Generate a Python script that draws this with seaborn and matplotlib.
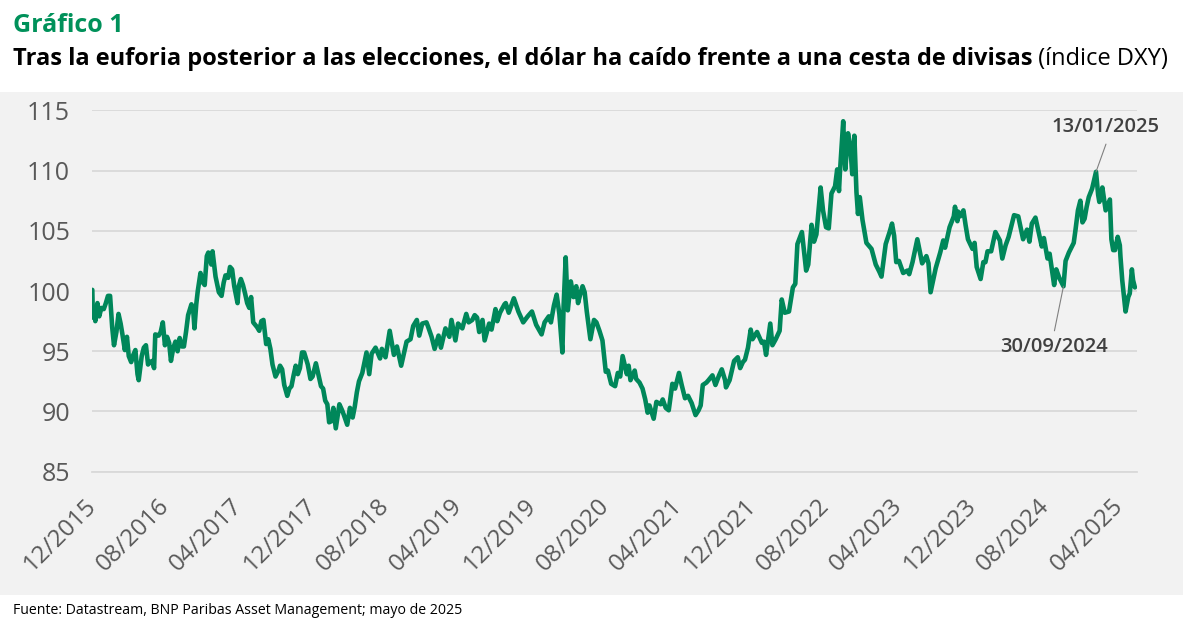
import matplotlib
matplotlib.use("Agg")
import matplotlib.pyplot as plt
from matplotlib.patches import Rectangle
import seaborn as sns
import pandas as pd

# DXY index, values (about weekly / semi-monthly)
dates = [
    "2015-12-01", "2015-12-03", "2015-12-08", "2015-12-11", "2015-12-18", "2015-12-24", "2015-12-31",
    "2016-01-08", "2016-01-15", "2016-01-22", "2016-01-29", "2016-02-05", "2016-02-11", "2016-02-19",
    "2016-02-26", "2016-03-04", "2016-03-10", "2016-03-18", "2016-03-25", "2016-03-31", "2016-04-08",
    "2016-04-15", "2016-04-22", "2016-04-29", "2016-05-03", "2016-05-13", "2016-05-20", "2016-05-27",
    "2016-06-03", "2016-06-10", "2016-06-17", "2016-06-23", "2016-06-27", "2016-07-08", "2016-07-15",
    "2016-07-22", "2016-07-29", "2016-08-05", "2016-08-12", "2016-08-18", "2016-08-26", "2016-09-02",
    "2016-09-09", "2016-09-16", "2016-09-23", "2016-09-30", "2016-10-07", "2016-10-14", "2016-10-25",
    "2016-10-31", "2016-11-04", "2016-11-10", "2016-11-15", "2016-11-24", "2016-12-02", "2016-12-08",
    "2016-12-15", "2016-12-20", "2016-12-30", "2017-01-03", "2017-01-13", "2017-01-24", "2017-02-02",
    "2017-02-09", "2017-02-15", "2017-02-24", "2017-03-02", "2017-03-09", "2017-03-16", "2017-03-27",
    "2017-03-31", "2017-04-07", "2017-04-14", "2017-04-21", "2017-04-28", "2017-05-05", "2017-05-11",
    "2017-05-18", "2017-05-31", "2017-06-07", "2017-06-14", "2017-06-21", "2017-06-30", "2017-07-07",
    "2017-07-14", "2017-07-21", "2017-07-31", "2017-08-10", "2017-08-15", "2017-08-22", "2017-08-29",
    "2017-09-08", "2017-09-15", "2017-09-22", "2017-09-29", "2017-10-06", "2017-10-13", "2017-10-20",
    "2017-10-27", "2017-11-03", "2017-11-15", "2017-11-24", "2017-12-01", "2017-12-12", "2017-12-19",
    "2017-12-29", "2018-01-05", "2018-01-12", "2018-01-19", "2018-01-25", "2018-02-02", "2018-02-08",
    "2018-02-16", "2018-02-28", "2018-03-09", "2018-03-15", "2018-03-26", "2018-04-04", "2018-04-13",
    "2018-04-20", "2018-04-27", "2018-05-04", "2018-05-15", "2018-05-29", "2018-06-07", "2018-06-15",
    "2018-06-28", "2018-07-13", "2018-07-19", "2018-07-31", "2018-08-14", "2018-08-28", "2018-09-07",
    "2018-09-21", "2018-10-09", "2018-10-22", "2018-10-31", "2018-11-12", "2018-11-20", "2018-11-30",
    "2018-12-14", "2018-12-20", "2018-12-31", "2019-01-10", "2019-01-23", "2019-01-31", "2019-02-15",
    "2019-02-28", "2019-03-07", "2019-03-20", "2019-03-29", "2019-04-12", "2019-04-25", "2019-05-03",
    "2019-05-15", "2019-05-23", "2019-05-31", "2019-06-07", "2019-06-18", "2019-06-25", "2019-07-10",
    "2019-07-18", "2019-07-31", "2019-08-06", "2019-08-15", "2019-08-30", "2019-09-03", "2019-09-13",
    "2019-09-30", "2019-10-15", "2019-10-31", "2019-11-15", "2019-11-29", "2019-12-13", "2019-12-31",
    "2020-01-10", "2020-01-24", "2020-01-31", "2020-02-10", "2020-02-19", "2020-02-28", "2020-03-09",
    "2020-03-13", "2020-03-20", "2020-03-27", "2020-04-06", "2020-04-15", "2020-04-24", "2020-04-30",
    "2020-05-08", "2020-05-15", "2020-05-22", "2020-05-29", "2020-06-10", "2020-06-22", "2020-06-30",
    "2020-07-10", "2020-07-20", "2020-07-31", "2020-08-07", "2020-08-18", "2020-08-31", "2020-09-09",
    "2020-09-17", "2020-09-25", "2020-10-09", "2020-10-15", "2020-10-21", "2020-11-04", "2020-11-09",
    "2020-11-20", "2020-11-30", "2020-12-09", "2020-12-17", "2020-12-23", "2021-01-06", "2021-01-15",
    "2021-01-29", "2021-02-05", "2021-02-15", "2021-02-25", "2021-03-09", "2021-03-18", "2021-03-31",
    "2021-04-09", "2021-04-20", "2021-04-30", "2021-05-12", "2021-05-25", "2021-06-04", "2021-06-11",
    "2021-06-18", "2021-06-30", "2021-07-07", "2021-07-20", "2021-07-30", "2021-08-11", "2021-08-20",
    "2021-08-31", "2021-09-03", "2021-09-15", "2021-09-30", "2021-10-12", "2021-10-20", "2021-10-29",
    "2021-11-05", "2021-11-15", "2021-11-24", "2021-11-30", "2021-12-15", "2021-12-31", "2022-01-07",
    "2022-01-14", "2022-01-28", "2022-02-04", "2022-02-15", "2022-02-28", "2022-03-07", "2022-03-17",
    "2022-03-31", "2022-04-13", "2022-04-21", "2022-04-28", "2022-05-13", "2022-05-27", "2022-06-03",
    "2022-06-14", "2022-06-22", "2022-06-30", "2022-07-14", "2022-07-22", "2022-08-01", "2022-08-10",
    "2022-08-19", "2022-08-31", "2022-09-07", "2022-09-13", "2022-09-16", "2022-09-27", "2022-09-30",
    "2022-10-04", "2022-10-13", "2022-10-21", "2022-10-27", "2022-11-03", "2022-11-10", "2022-11-15",
    "2022-11-21", "2022-11-30", "2022-12-13", "2022-12-30", "2023-01-13", "2023-01-25", "2023-02-01",
    "2023-02-15", "2023-02-28", "2023-03-08", "2023-03-15", "2023-03-22", "2023-03-31", "2023-04-14",
    "2023-04-28", "2023-05-04", "2023-05-15", "2023-05-31", "2023-06-16", "2023-06-30", "2023-07-07",
    "2023-07-14", "2023-07-31", "2023-08-15", "2023-08-25", "2023-08-31", "2023-09-15", "2023-09-29",
    "2023-10-03", "2023-10-11", "2023-10-13", "2023-10-20", "2023-10-31", "2023-11-07", "2023-11-15",
    "2023-11-30", "2023-12-07", "2023-12-14", "2023-12-27", "2024-01-05", "2024-01-12", "2024-01-19",
    "2024-01-31", "2024-02-14", "2024-02-29", "2024-03-08", "2024-03-19", "2024-03-29", "2024-04-16",
    "2024-04-30", "2024-05-16", "2024-05-29", "2024-06-06", "2024-06-14", "2024-06-26", "2024-07-03",
    "2024-07-17", "2024-07-24", "2024-08-05", "2024-08-12", "2024-08-27", "2024-09-03", "2024-09-13",
    "2024-09-27", "2024-10-04", "2024-10-15", "2024-10-31", "2024-11-06", "2024-11-14", "2024-11-22",
    "2024-11-29", "2024-12-06", "2024-12-13", "2024-12-20", "2024-12-31", "2025-01-13", "2025-01-20",
    "2025-01-24", "2025-01-30", "2025-02-03", "2025-02-14", "2025-02-28", "2025-03-05", "2025-03-11",
    "2025-03-17", "2025-03-26", "2025-04-02", "2025-04-04", "2025-04-10", "2025-04-21", "2025-04-30",
    "2025-05-05", "2025-05-12", "2025-05-16", "2025-05-22",
]
dxy = [
    100.1, 97.8, 98.6, 97.5, 99.0, 97.9, 98.6,
    98.5, 99.0, 99.6, 99.6, 97.0, 95.5, 96.6,
    98.1, 97.3, 96.4, 95.1, 96.2, 94.6, 94.1,
    94.7, 95.1, 93.1, 92.6, 94.6, 95.3, 95.5,
    93.9, 94.1, 94.2, 93.6, 96.4, 96.3, 96.6,
    97.4, 95.5, 96.2, 95.7, 94.2, 95.3, 95.8,
    95.0, 96.1, 95.4, 95.4, 96.6, 98.0, 98.9,
    98.4, 96.9, 98.9, 100.0, 101.5, 100.7, 100.5,
    102.9, 103.2, 102.2, 103.3, 101.2, 99.9, 99.6,
    100.7, 101.3, 101.1, 102.0, 101.8, 100.4, 99.0,
    100.4, 101.0, 100.5, 99.8, 99.0, 98.6, 99.5,
    97.4, 97.0, 96.7, 97.5, 97.6, 95.6, 96.0,
    95.2, 93.9, 92.9, 93.4, 93.8, 93.5, 92.2,
    91.3, 91.9, 92.1, 93.0, 93.8, 93.1, 93.6,
    94.9, 94.9, 93.9, 92.7, 92.9, 94.0, 93.2,
    92.1, 91.9, 90.9, 90.6, 89.1, 89.2, 90.3,
    88.6, 90.6, 90.1, 89.7, 88.9, 90.3, 89.5,
    90.4, 91.6, 92.5, 93.2, 94.9, 93.1, 94.8,
    95.3, 94.4, 95.2, 94.5, 96.7, 94.7, 95.4,
    93.8, 95.8, 96.0, 97.1, 97.6, 96.3, 97.3,
    97.4, 97.0, 96.2, 95.2, 96.3, 95.3, 96.9,
    96.2, 97.6, 95.9, 97.3, 96.9, 98.1, 97.4,
    97.6, 98.0, 97.8, 96.6, 97.6, 95.9, 97.3,
    96.8, 98.5, 97.5, 98.2, 98.9, 99.0, 98.2,
    99.4, 98.3, 97.4, 97.9, 98.3, 97.2, 96.4,
    97.4, 97.9, 97.4, 98.8, 99.7, 98.1, 94.9,
    98.7, 102.8, 98.4, 100.8, 99.5, 100.4, 99.0,
    99.8, 100.4, 99.9, 98.3, 96.0, 97.6, 97.4,
    96.7, 95.9, 93.3, 93.4, 92.3, 92.1, 93.2,
    92.9, 94.6, 93.1, 93.8, 92.6, 93.4, 92.7,
    92.4, 91.9, 91.0, 89.9, 90.5, 89.4, 90.8,
    90.6, 91.0, 90.3, 90.1, 92.3, 91.9, 93.2,
    92.2, 91.1, 91.3, 90.7, 89.7, 90.1, 90.5,
    92.2, 92.4, 92.6, 93.0, 92.2, 93.0, 93.5,
    92.6, 92.0, 92.6, 94.2, 94.5, 93.6, 94.1,
    94.3, 95.3, 96.8, 96.0, 96.6, 95.7, 95.8,
    94.7, 97.3, 95.5, 96.0, 96.7, 99.3, 98.2,
    98.3, 100.3, 100.6, 103.9, 104.9, 101.7, 102.2,
    105.5, 104.1, 104.7, 108.6, 106.7, 105.3, 105.2,
    108.1, 108.7, 110.1, 108.3, 109.8, 114.1, 112.1,
    110.1, 113.1, 111.9, 109.7, 112.9, 108.2, 106.4,
    107.8, 105.9, 104.0, 103.5, 102.2, 101.6, 101.2,
    103.9, 104.9, 105.6, 104.6, 102.4, 102.5, 101.5,
    101.7, 101.4, 102.4, 104.3, 102.3, 102.9, 102.3,
    99.9, 101.9, 103.2, 104.2, 103.6, 105.3, 106.2,
    107.0, 105.8, 106.6, 106.2, 106.7, 105.5, 104.3,
    103.5, 104.0, 102.0, 101.0, 102.4, 102.4, 103.3,
    103.3, 104.9, 104.2, 102.7, 103.8, 104.5, 106.3,
    106.2, 104.3, 105.1, 104.1, 105.6, 106.1, 105.3,
    103.7, 104.4, 102.7, 103.1, 100.5, 101.8, 101.1,
    100.4, 102.5, 103.2, 104.0, 105.1, 106.7, 107.5,
    105.7, 106.0, 107.0, 107.8, 108.5, 109.9, 108.0,
    107.4, 107.8, 108.6, 106.7, 107.6, 104.3, 103.4,
    103.4, 104.5, 103.8, 102.9, 100.9, 98.3, 99.5,
    99.8, 101.8, 100.9, 100.3,
]

tick_labels = ["12/2015", "08/2016", "04/2017", "12/2017", "08/2018", "04/2019", "12/2019",
               "08/2020", "04/2021", "12/2021", "08/2022", "04/2023", "12/2023", "08/2024", "04/2025"]
y_ticks = [85, 90, 95, 100, 105, 110, 115]

# callouts: label, marked date, marked value, label position (date, value), leader start (date, value)
callout_labels = ["13/01/2025", "30/09/2024"]
callout_dates = ["2025-01-13", "2024-09-27"]
callout_values = [109.9, 100.4]
callout_text_pos = [("2025-02-13", 113.6), ("2024-08-28", 95.35)]
callout_line_start = [("2025-02-15", 112.2), ("2024-08-28", 96.7)]

TITLE = "Gráfico 1"
SUBTITLE = "Tras la euforia posterior a las elecciones, el dólar ha caído frente a una cesta de divisas"
SUBTITLE_REG = " (índice DXY)"
SOURCE = "Fuente: Datastream, BNP Paribas Asset Management; mayo de 2025"

GREEN = "#00875A"
TITLE_GREEN = "#00915A"
GRID = "#d9d9d9"
TICK_TEXT = "#595959"
PANEL = "#f2f2f2"

sns.set_theme(style="white")
plt.rcParams["font.family"] = ["Open Sans", "DejaVu Sans"]

df = pd.DataFrame({"date": pd.to_datetime(dates), "dxy": dxy})

W, H = 1183, 621
fig = plt.figure(figsize=(W / 100, H / 100), dpi=100)
fig.patch.set_facecolor("white")
fig.patches.append(Rectangle((0, 1 - 595 / H), 1, (595 - 92) / H, transform=fig.transFigure,
                             facecolor=PANEL, edgecolor="none", zorder=-5))

ax = fig.add_axes([92.3 / W, 1 - 471.7 / H, (1137 - 92.3) / W, (471.7 - 110.4) / H])
ax.set_facecolor("none")
ax.set_zorder(2)

sns.lineplot(data=df, x="date", y="dxy", ax=ax, color=GREEN, linewidth=3.3, zorder=3)

ax.set_xlim(pd.Timestamp("2015-12-01"), pd.Timestamp("2025-05-29"))
ax.set_ylim(85, 115)
ax.set_yticks(y_ticks)
ax.set_yticklabels([str(v) for v in y_ticks], fontsize=18, color=TICK_TEXT)
ax.set_xticks(pd.to_datetime(tick_labels, format="%m/%Y"))
ax.set_xticklabels(tick_labels, rotation=45, ha="right", va="center", rotation_mode="anchor",
                   fontsize=17.5, color=TICK_TEXT)
ax.tick_params(axis="y", length=0, pad=16)
ax.tick_params(axis="x", length=5, width=1, color=GRID, pad=17, direction="out")
ax.set_xlabel("")
ax.set_ylabel("")

ax.grid(axis="y", color=GRID, linewidth=1.3)
ax.grid(axis="x", visible=False)
for side in ["top", "right", "left"]:
    ax.spines[side].set_visible(False)
ax.spines["bottom"].set_color(GRID)
ax.spines["bottom"].set_linewidth(1.3)

for lab, (tx, ty), (lx, ly), d, v in zip(callout_labels, callout_text_pos, callout_line_start,
                                         callout_dates, callout_values):
    ax.text(pd.Timestamp(tx), ty, lab, ha="center", va="center", fontsize=14.5,
            fontweight="semibold", color="#404040", zorder=4)
    ax.annotate("", xy=(pd.Timestamp(d), v), xytext=(pd.Timestamp(lx), ly),
                arrowprops=dict(arrowstyle="-", color="#808080", lw=0.8,
                                shrinkA=0, shrinkB=0), zorder=4)

fig.text(13 / W, 1 - 32 / H, TITLE, ha="left", va="baseline", fontsize=18,
         fontweight="bold", color=TITLE_GREEN)
sub = fig.text(13 / W, 1 - 65 / H, SUBTITLE, ha="left", va="baseline", fontsize=17,
               fontweight="bold", color="black")
fig.canvas.draw()
bb = sub.get_window_extent()
fig.text(bb.x1 / W, 1 - 65 / H, SUBTITLE_REG, ha="left", va="baseline", fontsize=17,
         color="black")
fig.text(13 / W, 1 - 614 / H, SOURCE, ha="left", va="baseline", fontsize=10.2, color="black")

fig.savefig("out.png", dpi=100)
